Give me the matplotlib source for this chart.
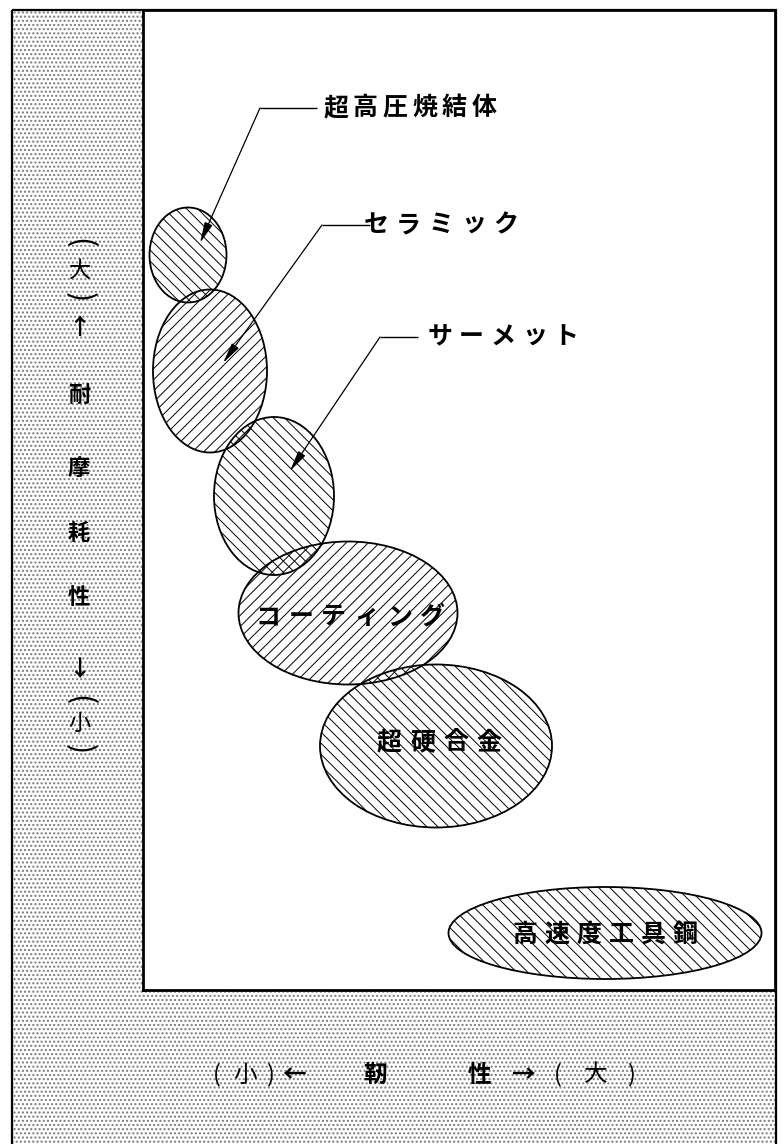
import matplotlib
matplotlib.use('Agg')
import matplotlib.pyplot as plt
from matplotlib.patches import Ellipse, Rectangle

plt.rcParams['font.family'] = ['Noto Sans CJK JP', 'DejaVu Sans']

# ---- data (toughness -> x, wear resistance -> y, arbitrary units) ----
materials = ['超高圧焼結体', 'セラミック', 'サーメット', 'コーティング', '超硬合金', '高速度工具鋼']
toughness_center = [45, 67, 131, 205, 293, 462]
wear_center = [735, 619, 494, 377, 244, 57]
toughness_span = [77, 114, 120, 219, 232, 313]
wear_span = [95, 163, 158, 143, 163, 92]
hatch_styles = ['\\\\\\', '///', '\\\\\\', '///', '\\\\\\', '\\\\\\']

# labels drawn inside their regions
inside_idx = [3, 4, 5]
inside_x = [207, 296, 462]
inside_y = [373, 248, 55]
inside_pitch = [32.8, 33, 32]

# labels with leader lines
callout_idx = [0, 1, 2]
callout_x = [267, 298, 360]
callout_y = [882, 765, 653]
callout_pitch = [29.7, 32.5, 31.5]
leader_start_x = [174, 227, 275]
knee_x = [117, 179, 237]
tip_x = [57, 80, 147]
tip_y = [747, 627, 519]

# vertical axis title (parentheses are rotated "(" / ")")
y_label_chars = ['(', '大', ')', '↑', '耐', '摩', '耗', '性', '↓', '(', '小', ')']
y_label_pos = [243, 270, 297, 328, 395, 468, 533, 598, 670, 700, 723, 749]
x_label_chars = ['(', '小', ')', '←', '靭', '性', '→', '(', '大', ')']
x_label_pos = [217, 245, 270, 294, 375, 479, 523, 558, 596, 631]

W, H = 784, 1144
fig = plt.figure(figsize=(W / 100, H / 100), dpi=100)

# background / frame axes in pixel units
bg = fig.add_axes([0, 0, 1, 1])
bg.set_xlim(0, W)
bg.set_ylim(H, 0)
bg.axis('off')

stipple = Rectangle((12, 10), 764, 1150, facecolor='white', edgecolor='#7a7a7a',
                    linewidth=0, hatch='....')
bg.add_patch(stipple)
bg.add_patch(Rectangle((12, 10), 764, 1150, facecolor='none', edgecolor='black',
                       linewidth=1.6))

bold_chars = set('耐摩耗性靭↑↓←→')
for ch, yp in zip(y_label_chars, y_label_pos):
    if ch in '()':
        bg.text(79, yp, ch, ha='center', va='center', fontsize=22,
                rotation=-90, fontweight='normal')
    else:
        bg.text(79, yp, ch, ha='center', va='center', fontsize=16,
                fontweight='bold' if ch in bold_chars else 'normal')
for ch, xp in zip(x_label_chars, x_label_pos):
    bg.text(xp, 1075, ch, ha='center', va='center', fontsize=17,
            fontweight='bold' if ch in bold_chars else 'normal')

# main plot area
x0, x1, ytop, ybot = 143, 775, 10, 990
ax = fig.add_axes([x0 / W, (H - ybot) / H, (x1 - x0) / W, (ybot - ytop) / H])
ax.set_xlim(0, x1 - x0)
ax.set_ylim(0, ybot - ytop)
ax.set_xticks([])
ax.set_yticks([])
ax.set_facecolor('white')
for sp in ax.spines.values():
    sp.set_linewidth(2.0)
    sp.set_color('black')

for cx, cy, w, h, hs in zip(toughness_center, wear_center, toughness_span,
                            wear_span, hatch_styles):
    e = Ellipse((cx, cy), w, h, facecolor='none', edgecolor='black',
                linewidth=1.3, hatch=hs)
    if hasattr(e, 'set_hatch_linewidth'):
        e.set_hatch_linewidth(0.7)
    ax.add_patch(e)


def spaced(axis, s, xc, y, pitch, **kw):
    n = len(s)
    start = xc - pitch * (n - 1) / 2
    for i, ch in enumerate(s):
        axis.text(start + i * pitch, y, ch, ha='center', va='center', **kw)


for i, xc, yc, p in zip(inside_idx, inside_x, inside_y, inside_pitch):
    spaced(ax, materials[i], xc, yc, p, fontsize=18, fontweight='bold')

for i, xc, yc, p, sx, kx, tx, ty in zip(callout_idx, callout_x, callout_y,
                                        callout_pitch, leader_start_x, knee_x,
                                        tip_x, tip_y):
    spaced(ax, materials[i], xc, yc, p, fontsize=18, fontweight='bold')
    ax.plot([sx, kx], [yc, yc], color='black', lw=1.0, solid_capstyle='butt')
    ax.annotate('', xy=(tx, ty), xytext=(kx, yc),
                arrowprops=dict(arrowstyle='-|>,head_length=0.9,head_width=0.18',
                                color='black', lw=0.9, shrinkA=0, shrinkB=0,
                                mutation_scale=14))

fig.savefig('out.png', dpi=100)
